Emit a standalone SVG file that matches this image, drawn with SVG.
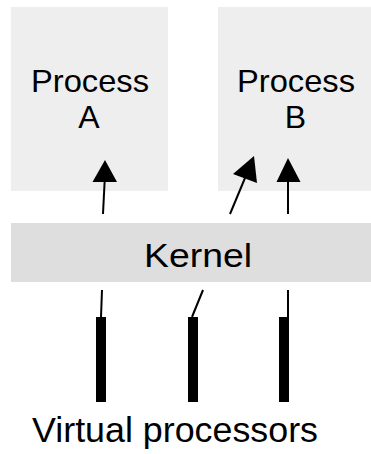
<svg xmlns="http://www.w3.org/2000/svg" width="371" height="454" viewBox="0 0 371 454">
<defs>
<style>
.box{fill:#eeeeee;}
.kern{fill:#dedede;}
.t{font-family:"Liberation Sans",Arial,sans-serif;fill:#000;text-anchor:middle;}
.ln{stroke:#000;stroke-width:2;fill:none;}
.vp{fill:#000;}
</style>
</defs>
<rect width="371" height="454" fill="#fff"/>
<g id="processA">
<rect class="box" x="11" y="7" width="157" height="184"/>
<text class="t" x="90" y="92" font-size="32" textLength="118" lengthAdjust="spacingAndGlyphs">Process</text>
<text class="t" x="89" y="128" font-size="32">A</text>
</g>
<g id="processB">
<rect class="box" x="218" y="7" width="153" height="184"/>
<text class="t" x="296" y="92" font-size="32" textLength="118" lengthAdjust="spacingAndGlyphs">Process</text>
<text class="t" x="295.5" y="128" font-size="32">B</text>
</g>
<g id="kernel">
<rect class="kern" x="11" y="223" width="360" height="59"/>
<text class="t" x="198" y="267" font-size="34" textLength="108" lengthAdjust="spacingAndGlyphs">Kernel</text>
</g>
<g id="processors">
<rect class="vp" x="96" y="317" width="10" height="85"/>
<rect class="vp" x="188" y="317" width="10" height="85"/>
<rect class="vp" x="279" y="317" width="10" height="85"/>
<text class="t" x="175" y="442" font-size="35" textLength="286" lengthAdjust="spacingAndGlyphs">Virtual processors</text>
</g>
<g id="connectors">
<line class="ln" x1="103" y1="214" x2="104.6" y2="182"/>
<polygon points="105,160 92.5,182 117,182" fill="#000"/>
<line class="ln" x1="230" y1="214" x2="245" y2="178"/>
<polygon points="254,156 233,174 257,183" fill="#000"/>
<line class="ln" x1="288" y1="214" x2="288" y2="182"/>
<polygon points="288,158 276.5,182 300.5,182" fill="#000"/>
<line class="ln" x1="102" y1="290" x2="101" y2="317"/>
<line class="ln" x1="203" y1="290" x2="192" y2="317"/>
<line class="ln" x1="288" y1="290" x2="288" y2="317"/>
</g>
</svg>
